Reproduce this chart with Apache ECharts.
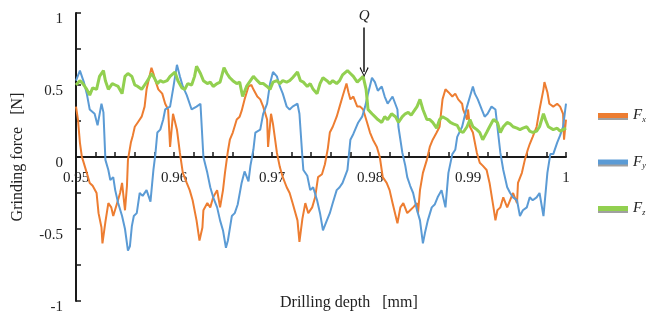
<!DOCTYPE html>
<html>
<head>
<meta charset="utf-8">
<script src="https://cdn.jsdelivr.net/npm/echarts@6/dist/echarts.min.js"></script>
<style>
html,body{margin:0;padding:0;background:#fff;}
#chart{width:646px;height:320px;}
</style>
</head>
<body>
<div id="chart"></div>
<script>
// ---- data: [drilling depth (mm), grinding force (N)] ----
var seriesNames = ['Fx', 'Fy', 'Fz'];
var yTickLabels = ['1', '0.5', '0', '-0.5', '-1'];
var xTickLabels = ['0.95', '0.96', '0.97', '0.98', '0.99', '1'];
var qMarkDepth = 0.9794;
var qMarkFrom = 0.90;
var qMarkTo = 0.59;

var dataFx = [
[0.9500,0.35],[0.9502,0.26],[0.9504,0.10],[0.9506,0.00],[0.9507,-0.02],[0.9511,-0.11],[0.9514,-0.18],[0.9517,-0.20],[0.9521,-0.25],[0.9523,-0.39],
[0.9526,-0.49],[0.9527,-0.60],[0.9530,-0.45],[0.9533,-0.32],[0.9536,-0.35],[0.9538,-0.41],[0.9542,-0.32],[0.9545,-0.25],[0.9547,-0.18],[0.9550,-0.37],
[0.9552,-0.20],[0.9553,-0.02],[0.9556,0.10],[0.9558,0.15],[0.9560,0.21],[0.9563,0.24],[0.9567,0.28],[0.9570,0.35],[0.9572,0.47],[0.9577,0.62],
[0.9579,0.58],[0.9581,0.53],[0.9584,0.47],[0.9588,0.44],[0.9591,0.37],[0.9594,0.33],[0.9596,0.07],[0.9599,0.30],[0.9603,0.19],[0.9606,0.03],
[0.9609,-0.11],[0.9613,-0.18],[0.9616,-0.23],[0.9619,-0.30],[0.9623,-0.44],[0.9626,-0.58],[0.9629,-0.49],[0.9630,-0.37],[0.9634,-0.32],[0.9637,-0.35],
[0.9640,-0.28],[0.9644,-0.23],[0.9647,-0.35],[0.9650,-0.23],[0.9652,-0.11],[0.9655,0.04],[0.9657,0.12],[0.9660,0.17],[0.9664,0.26],[0.9667,0.28],
[0.9669,0.32],[0.9672,0.40],[0.9676,0.49],[0.9679,0.50],[0.9681,0.47],[0.9685,0.42],[0.9688,0.40],[0.9691,0.35],[0.9695,0.26],[0.9696,0.07],
[0.9699,0.30],[0.9701,0.23],[0.9705,0.03],[0.9708,-0.07],[0.9711,-0.14],[0.9715,-0.21],[0.9718,-0.25],[0.9721,-0.32],[0.9726,-0.44],[0.9728,-0.59],
[0.9731,-0.43],[0.9734,-0.32],[0.9737,-0.39],[0.9741,-0.35],[0.9744,-0.28],[0.9747,-0.14],[0.9751,-0.12],[0.9754,-0.05],[0.9757,0.06],[0.9759,0.17],
[0.9762,0.21],[0.9766,0.28],[0.9769,0.35],[0.9772,0.42],[0.9776,0.51],[0.9778,0.45],[0.9780,0.40],[0.9783,0.42],[0.9787,0.35],[0.9790,0.35],
[0.9793,0.33],[0.9797,0.24],[0.9800,0.17],[0.9803,0.12],[0.9807,0.07],[0.9810,0.00],[0.9813,-0.14],[0.9817,-0.18],[0.9820,-0.23],[0.9823,-0.32],
[0.9828,-0.46],[0.9831,-0.35],[0.9834,-0.32],[0.9838,-0.39],[0.9841,-0.37],[0.9844,-0.35],[0.9848,-0.32],[0.9849,-0.39],[0.9851,-0.23],[0.9854,-0.11],
[0.9858,-0.02],[0.9861,0.07],[0.9864,0.12],[0.9868,0.17],[0.9871,0.21],[0.9874,0.40],[0.9877,0.47],[0.9880,0.45],[0.9884,0.42],[0.9887,0.44],
[0.9890,0.40],[0.9894,0.37],[0.9895,0.33],[0.9899,0.26],[0.9900,0.33],[0.9902,0.21],[0.9905,0.17],[0.9909,0.03],[0.9912,-0.04],[0.9915,-0.06],
[0.9919,-0.09],[0.9922,-0.18],[0.9926,-0.35],[0.9928,-0.44],[0.9930,-0.37],[0.9933,-0.35],[0.9936,-0.28],[0.9940,-0.35],[0.9943,-0.30],[0.9946,-0.25],
[0.9950,-0.32],[0.9951,-0.18],[0.9955,-0.11],[0.9958,-0.02],[0.9961,0.05],[0.9963,0.09],[0.9966,0.14],[0.9970,0.21],[0.9973,0.33],[0.9977,0.47],
[0.9978,0.52],[0.9981,0.45],[0.9983,0.37],[0.9987,0.35],[0.9991,0.37],[0.9994,0.35],[0.9997,0.30],[0.9998,0.12],[1.0000,0.26]
];

var dataFy = [
[0.9500,0.53],[0.9504,0.60],[0.9508,0.52],[0.9511,0.44],[0.9514,0.33],[0.9519,0.30],[0.9522,0.22],[0.9526,0.37],[0.9528,0.31],[0.9530,-0.02],
[0.9533,-0.09],[0.9535,-0.16],[0.9538,-0.14],[0.9540,-0.23],[0.9543,-0.32],[0.9547,-0.41],[0.9550,-0.50],[0.9553,-0.65],[0.9555,-0.62],[0.9557,-0.48],
[0.9559,-0.41],[0.9562,-0.39],[0.9565,-0.25],[0.9568,-0.27],[0.9572,-0.23],[0.9576,-0.31],[0.9579,-0.09],[0.9581,0.02],[0.9583,0.17],[0.9586,0.19],
[0.9589,0.26],[0.9591,0.33],[0.9596,0.35],[0.9599,0.47],[0.9603,0.64],[0.9606,0.56],[0.9609,0.49],[0.9613,0.43],[0.9618,0.33],[0.9623,0.35],
[0.9627,0.37],[0.9630,0.00],[0.9634,-0.11],[0.9637,-0.21],[0.9640,-0.28],[0.9644,-0.35],[0.9647,-0.44],[0.9650,-0.51],[0.9653,-0.63],[0.9655,-0.58],
[0.9659,-0.41],[0.9662,-0.39],[0.9665,-0.33],[0.9669,-0.18],[0.9672,-0.10],[0.9676,-0.17],[0.9678,-0.06],[0.9681,0.05],[0.9683,0.17],[0.9688,0.19],
[0.9691,0.30],[0.9695,0.37],[0.9698,0.51],[0.9701,0.59],[0.9705,0.56],[0.9708,0.49],[0.9711,0.44],[0.9715,0.35],[0.9718,0.33],[0.9721,0.35],
[0.9726,0.37],[0.9728,0.30],[0.9731,0.00],[0.9732,-0.09],[0.9736,-0.13],[0.9739,-0.23],[0.9742,-0.21],[0.9746,-0.30],[0.9749,-0.39],[0.9752,-0.51],
[0.9756,-0.44],[0.9759,-0.39],[0.9762,-0.32],[0.9766,-0.23],[0.9769,-0.21],[0.9772,-0.18],[0.9777,-0.09],[0.9780,0.12],[0.9783,0.16],[0.9788,0.24],
[0.9792,0.28],[0.9795,0.35],[0.9798,0.44],[0.9802,0.55],[0.9805,0.52],[0.9808,0.46],[0.9812,0.49],[0.9815,0.42],[0.9818,0.37],[0.9823,0.42],
[0.9828,0.33],[0.9829,0.21],[0.9833,0.03],[0.9836,-0.06],[0.9838,-0.14],[0.9841,-0.20],[0.9844,-0.25],[0.9848,-0.37],[0.9851,-0.44],[0.9854,-0.60],
[0.9856,-0.53],[0.9859,-0.44],[0.9863,-0.35],[0.9866,-0.33],[0.9869,-0.28],[0.9873,-0.23],[0.9877,-0.35],[0.9880,-0.11],[0.9884,0.02],[0.9887,0.05],
[0.9889,0.14],[0.9894,0.21],[0.9899,0.35],[0.9902,0.42],[0.9905,0.49],[0.9907,0.44],[0.9910,0.40],[0.9914,0.33],[0.9917,0.28],[0.9920,0.30],
[0.9924,0.35],[0.9928,0.33],[0.9930,0.21],[0.9933,0.03],[0.9936,-0.09],[0.9940,-0.21],[0.9943,-0.25],[0.9946,-0.28],[0.9950,-0.30],[0.9953,-0.41],
[0.9956,-0.37],[0.9960,-0.35],[0.9963,-0.28],[0.9966,-0.30],[0.9970,-0.28],[0.9973,-0.25],[0.9977,-0.41],[0.9981,-0.11],[0.9984,0.02],[0.9987,0.02],
[0.9991,0.10],[0.9994,0.15],[0.9997,0.21],[1.0000,0.37]
];

var dataFz = [
[0.9500,0.50],[0.9504,0.53],[0.9507,0.51],[0.9511,0.47],[0.9514,0.43],[0.9517,0.48],[0.9521,0.47],[0.9524,0.56],[0.9528,0.60],[0.9530,0.53],
[0.9533,0.47],[0.9537,0.51],[0.9540,0.50],[0.9543,0.49],[0.9547,0.44],[0.9550,0.56],[0.9553,0.58],[0.9557,0.56],[0.9560,0.50],[0.9563,0.49],
[0.9567,0.47],[0.9570,0.50],[0.9573,0.53],[0.9577,0.58],[0.9579,0.56],[0.9583,0.51],[0.9586,0.53],[0.9589,0.52],[0.9593,0.53],[0.9596,0.56],
[0.9601,0.59],[0.9604,0.53],[0.9608,0.48],[0.9611,0.47],[0.9614,0.51],[0.9618,0.50],[0.9621,0.56],[0.9623,0.63],[0.9627,0.58],[0.9630,0.53],
[0.9634,0.51],[0.9637,0.52],[0.9640,0.49],[0.9644,0.51],[0.9647,0.52],[0.9651,0.62],[0.9654,0.58],[0.9657,0.55],[0.9660,0.53],[0.9664,0.51],
[0.9667,0.52],[0.9670,0.42],[0.9674,0.49],[0.9678,0.53],[0.9681,0.56],[0.9685,0.53],[0.9688,0.51],[0.9691,0.51],[0.9695,0.49],[0.9698,0.47],
[0.9701,0.52],[0.9705,0.53],[0.9708,0.51],[0.9711,0.53],[0.9715,0.52],[0.9718,0.53],[0.9721,0.55],[0.9726,0.59],[0.9729,0.53],[0.9732,0.52],
[0.9736,0.49],[0.9739,0.51],[0.9742,0.47],[0.9746,0.44],[0.9749,0.51],[0.9752,0.55],[0.9756,0.53],[0.9759,0.51],[0.9762,0.53],[0.9766,0.51],
[0.9769,0.53],[0.9772,0.57],[0.9777,0.60],[0.9780,0.58],[0.9783,0.56],[0.9787,0.52],[0.9790,0.54],[0.9793,0.56],[0.9796,0.47],[0.9798,0.33],
[0.9802,0.30],[0.9805,0.28],[0.9808,0.26],[0.9812,0.24],[0.9815,0.28],[0.9818,0.26],[0.9822,0.30],[0.9826,0.28],[0.9829,0.24],[0.9833,0.28],
[0.9836,0.30],[0.9839,0.31],[0.9842,0.29],[0.9845,0.32],[0.9848,0.35],[0.9851,0.40],[0.9854,0.33],[0.9858,0.26],[0.9861,0.26],[0.9864,0.24],
[0.9868,0.20],[0.9871,0.26],[0.9874,0.28],[0.9879,0.26],[0.9882,0.24],[0.9885,0.23],[0.9889,0.22],[0.9892,0.18],[0.9895,0.17],[0.9899,0.21],
[0.9902,0.26],[0.9905,0.21],[0.9909,0.19],[0.9912,0.17],[0.9915,0.12],[0.9919,0.17],[0.9922,0.21],[0.9926,0.26],[0.9930,0.24],[0.9933,0.17],
[0.9936,0.21],[0.9940,0.24],[0.9943,0.23],[0.9946,0.21],[0.9950,0.20],[0.9953,0.19],[0.9956,0.20],[0.9960,0.21],[0.9963,0.18],[0.9966,0.17],
[0.9970,0.18],[0.9973,0.21],[0.9977,0.30],[0.9979,0.26],[0.9982,0.21],[0.9987,0.19],[0.9991,0.20],[0.9994,0.18],[0.9997,0.19],[1.0000,0.20]
];

var colors = ['#ED7D31', '#5B9BD5', '#92D050'];
var serif = '"Liberation Serif", "DejaVu Serif", serif';

function isMajor(v) {
  return Math.abs(v * 100 - Math.round(v * 100)) < 1e-6;
}
function xLabel(v) {
  if (!isMajor(v)) return '';
  var idx = Math.round(v * 100) - 95;
  return xTickLabels[idx] !== undefined ? xTickLabels[idx] : '';
}
function yLabel(v) {
  var idx = Math.round((1 - v) / 0.5);
  if (Math.abs((1 - v) / 0.5 - idx) > 1e-6) return '';
  return yTickLabels[idx];
}

var chart = echarts.init(document.getElementById('chart'), null, {renderer: 'canvas'});
var gridTop = 13, gridBottom = 19, H = 320;
var option = {
  animation: false,
  backgroundColor: '#fff',
  color: colors,
  grid: {left: 76, right: 80, top: gridTop, bottom: gridBottom, containLabel: false},
  legend: {
    orient: 'vertical',
    left: 598,
    top: 108,
    padding: 0,
    itemWidth: 30,
    itemHeight: 5,
    itemGap: 31,
    icon: 'rect',
    data: seriesNames,
    itemStyle: {shadowColor: '#a0a0a0', shadowOffsetY: 2, shadowBlur: 0},
    formatter: function (n) { return '{f|F}{s|' + n.slice(1) + '}'; },
    textStyle: {
      rich: {
        f: {fontFamily: serif, fontStyle: 'italic', fontSize: 15, color: '#222'},
        s: {fontFamily: serif, fontStyle: 'italic', fontSize: 8, color: '#222', verticalAlign: 'bottom', padding: [8, 0, 0, 0]}
      }
    }
  },
  graphic: [{
    type: 'text',
    left: 280,
    top: 295,
    style: {text: 'Drilling depth   [mm]', font: '16px ' + serif, fill: '#222'}
  }],
  xAxis: {
    type: 'value',
    min: 0.95,
    max: 1,
    interval: 0.002,
    offset: -(H - gridTop - gridBottom) / 2,
    axisLine: {onZero: false, lineStyle: {color: '#1a1a1a', width: 2}},
    axisTick: {show: true, inside: true, length: 5, lineStyle: {color: '#1a1a1a', width: 1.5}},
    axisLabel: {formatter: xLabel, margin: 14, fontFamily: serif, fontSize: 15, color: '#222', showMinLabel: true, showMaxLabel: true, hideOverlap: false},
    splitLine: {show: false}
  },
  yAxis: {
    type: 'value',
    min: -1,
    max: 1,
    interval: 0.25,
    name: 'Grinding force   [N]',
    nameLocation: 'middle',
    nameGap: 50,
    nameTextStyle: {fontFamily: serif, fontSize: 16, color: '#222'},
    axisLine: {show: true, onZero: false, lineStyle: {color: '#1a1a1a', width: 2}},
    axisTick: {show: true, inside: true, length: 5, lineStyle: {color: '#1a1a1a', width: 1.5}},
    axisLabel: {formatter: yLabel, margin: 13, fontFamily: serif, fontSize: 15, color: '#222', verticalAlign: 'top', lineHeight: 13},
    splitLine: {show: false}
  },
  series: [
    {name: 'Fx', type: 'line', data: dataFx, showSymbol: false, symbol: 'none', lineStyle: {width: 2, color: colors[0]}, z: 2},
    {name: 'Fy', type: 'line', data: dataFy, showSymbol: false, symbol: 'none', lineStyle: {width: 2, color: colors[1]}, z: 3},
    {name: 'Fz', type: 'line', data: dataFz, showSymbol: false, symbol: 'none', lineStyle: {width: 3, color: colors[2]}, z: 4,
      markLine: {
        silent: true,
        animation: false,
        symbolSize: [9, 10],
        lineStyle: {color: '#111', width: 1.5, type: 'solid'},
        label: {show: true, position: 'start', formatter: 'Q', distance: 4, fontFamily: serif, fontStyle: 'italic', fontSize: 15, color: '#222'},
        data: [[
          {coord: [qMarkDepth, qMarkFrom], symbol: 'none'},
          {coord: [qMarkDepth, qMarkTo], symbol: 'path://M5,0 L10,9 L9,10 L5,2 L1,10 L0,9 Z'}
        ]]
      }
    }
  ]
};
chart.setOption(option);
</script>
</body>
</html>
